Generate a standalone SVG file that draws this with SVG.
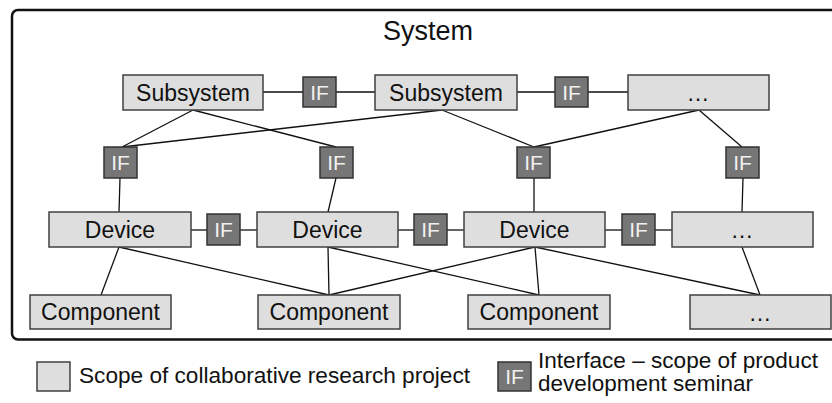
<svg xmlns="http://www.w3.org/2000/svg" width="832" height="403" viewBox="0 0 832 403">
<style>
text{font-family:"Liberation Sans",Arial,sans-serif;}
.box{fill:#dedede;stroke:#404040;stroke-width:1.5;}
.if{fill:#767676;stroke:#333;stroke-width:1.5;}
.lbl{font-size:23px;fill:#111;text-anchor:middle;}
.ift{font-size:21px;fill:#f0f0f0;text-anchor:middle;}
.con line{stroke:#111;stroke-width:1.3;}
.leg{font-size:22px;fill:#111;}
</style>
<rect x="12" y="10" width="840" height="329.5" rx="6" fill="#fff" stroke="#111" stroke-width="2.5"/>
<text x="428" y="40" font-size="27" fill="#111" text-anchor="middle">System</text>
<g class="con">
<line x1="263" y1="92" x2="303" y2="92"/><line x1="336" y1="92" x2="375" y2="92"/>
<line x1="517" y1="92" x2="555" y2="92"/><line x1="588" y1="92" x2="628" y2="92"/>
<line x1="193" y1="110" x2="122" y2="147"/><line x1="193" y1="110" x2="336" y2="147"/>
<line x1="442" y1="110" x2="122" y2="147"/><line x1="442" y1="110" x2="534" y2="147"/>
<line x1="699" y1="110" x2="534" y2="147"/><line x1="699" y1="110" x2="742" y2="147"/>
<line x1="120" y1="178" x2="119" y2="212"/><line x1="336" y1="178" x2="328" y2="212"/>
<line x1="534" y1="178" x2="534" y2="212"/><line x1="743" y1="178" x2="742" y2="212"/>
<line x1="191" y1="230" x2="207" y2="230"/><line x1="240" y1="230" x2="257" y2="230"/>
<line x1="398" y1="230" x2="414" y2="230"/><line x1="447" y1="230" x2="464" y2="230"/>
<line x1="605" y1="230" x2="622" y2="230"/><line x1="655" y1="230" x2="672" y2="230"/>
<line x1="119" y1="247" x2="101" y2="295"/><line x1="119" y1="247" x2="329" y2="295"/>
<line x1="328" y1="247" x2="329" y2="295"/><line x1="328" y1="247" x2="539" y2="295"/>
<line x1="535" y1="247" x2="329" y2="295"/><line x1="535" y1="247" x2="539" y2="295"/>
<line x1="535" y1="247" x2="760" y2="295"/><line x1="742" y1="247" x2="760" y2="295"/>
</g>
<g id="sub1"><rect class="box" x="123" y="75" width="140" height="35"/><text class="lbl" x="193" y="101">Subsystem</text></g>
<g id="if-s12"><rect class="if" x="303" y="77" width="33" height="30"/><text class="ift" x="319.5" y="100">IF</text></g>
<g id="sub2"><rect class="box" x="375" y="75" width="142" height="35"/><text class="lbl" x="446" y="101">Subsystem</text></g>
<g id="if-s23"><rect class="if" x="555" y="77" width="33" height="30"/><text class="ift" x="571.5" y="100">IF</text></g>
<g id="sub3"><rect class="box" x="628" y="75" width="141" height="35"/><text class="lbl" x="698" y="101">…</text></g>
<g id="if-r1"><rect class="if" x="104" y="147" width="33" height="31"/><text class="ift" x="120.5" y="170">IF</text></g>
<g id="if-r2"><rect class="if" x="320" y="147" width="33" height="31"/><text class="ift" x="336.5" y="170">IF</text></g>
<g id="if-r3"><rect class="if" x="517" y="147" width="33" height="31"/><text class="ift" x="533.5" y="170">IF</text></g>
<g id="if-r4"><rect class="if" x="726" y="147" width="33" height="31"/><text class="ift" x="742.5" y="170">IF</text></g>
<g id="dev1"><rect class="box" x="49" y="212" width="142" height="35"/><text class="lbl" x="120" y="238">Device</text></g>
<g id="if-d12"><rect class="if" x="207" y="214" width="33" height="31"/><text class="ift" x="223.5" y="237">IF</text></g>
<g id="dev2"><rect class="box" x="257" y="212" width="141" height="35"/><text class="lbl" x="327.5" y="238">Device</text></g>
<g id="if-d23"><rect class="if" x="414" y="214" width="33" height="31"/><text class="ift" x="430.5" y="237">IF</text></g>
<g id="dev3"><rect class="box" x="464" y="212" width="141" height="35"/><text class="lbl" x="534.5" y="238">Device</text></g>
<g id="if-d34"><rect class="if" x="622" y="214" width="33" height="31"/><text class="ift" x="638.5" y="237">IF</text></g>
<g id="dev4"><rect class="box" x="672" y="212" width="141" height="35"/><text class="lbl" x="742" y="238">…</text></g>
<g id="comp1"><rect class="box" x="30" y="295" width="141" height="34"/><text class="lbl" x="100.5" y="320">Component</text></g>
<g id="comp2"><rect class="box" x="258" y="295" width="142" height="34"/><text class="lbl" x="329" y="320">Component</text></g>
<g id="comp3"><rect class="box" x="468" y="295" width="142" height="34"/><text class="lbl" x="539" y="320">Component</text></g>
<g id="comp4"><rect class="box" x="690" y="295" width="141" height="34"/><text class="lbl" x="760" y="321">…</text></g>
<g id="legend-scope"><rect class="box" x="37" y="362" width="33" height="29"/><text class="leg" x="79" y="383" textLength="391" lengthAdjust="spacingAndGlyphs">Scope of collaborative research project</text></g>
<g id="legend-if"><rect class="if" x="498" y="362" width="33" height="29"/><text class="ift" x="514.5" y="384">IF</text>
<text class="leg" x="538" y="368" font-size="19" textLength="280" lengthAdjust="spacingAndGlyphs">Interface – scope of product</text>
<text class="leg" x="538" y="391" font-size="19" textLength="215" lengthAdjust="spacingAndGlyphs">development seminar</text></g>
</svg>
